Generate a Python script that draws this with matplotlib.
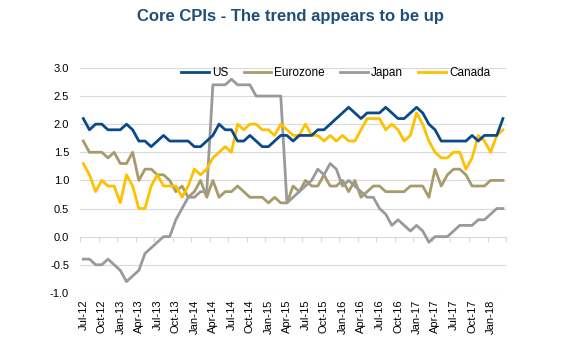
import matplotlib
matplotlib.use("Agg")
import matplotlib.pyplot as plt

plt.rcParams['font.family'] = ['Liberation Sans', 'DejaVu Sans']

# monthly, Jul-12 .. Mar-18
months = ["Jul-12", "Aug-12", "Sep-12", "Oct-12", "Nov-12", "Dec-12",
          "Jan-13", "Feb-13", "Mar-13", "Apr-13", "May-13", "Jun-13",
          "Jul-13", "Aug-13", "Sep-13", "Oct-13", "Nov-13", "Dec-13",
          "Jan-14", "Feb-14", "Mar-14", "Apr-14", "May-14", "Jun-14",
          "Jul-14", "Aug-14", "Sep-14", "Oct-14", "Nov-14", "Dec-14",
          "Jan-15", "Feb-15", "Mar-15", "Apr-15", "May-15", "Jun-15",
          "Jul-15", "Aug-15", "Sep-15", "Oct-15", "Nov-15", "Dec-15",
          "Jan-16", "Feb-16", "Mar-16", "Apr-16", "May-16", "Jun-16",
          "Jul-16", "Aug-16", "Sep-16", "Oct-16", "Nov-16", "Dec-16",
          "Jan-17", "Feb-17", "Mar-17", "Apr-17", "May-17", "Jun-17",
          "Jul-17", "Aug-17", "Sep-17", "Oct-17", "Nov-17", "Dec-17",
          "Jan-18", "Feb-18", "Mar-18"]

us = [2.1, 1.9, 2.0, 2.0, 1.9, 1.9, 1.9, 2.0, 1.9, 1.7, 1.7, 1.6,
      1.7, 1.8, 1.7, 1.7, 1.7, 1.7, 1.6, 1.6, 1.7, 1.8, 2.0, 1.9,
      1.9, 1.7, 1.7, 1.8, 1.7, 1.6, 1.6, 1.7, 1.8, 1.8, 1.7, 1.8,
      1.8, 1.8, 1.9, 1.9, 2.0, 2.1, 2.2, 2.3, 2.2, 2.1, 2.2, 2.2,
      2.2, 2.3, 2.2, 2.1, 2.1, 2.2, 2.3, 2.2, 2.0, 1.9, 1.7, 1.7,
      1.7, 1.7, 1.7, 1.8, 1.7, 1.8, 1.8, 1.8, 2.1]

eurozone = [1.7, 1.5, 1.5, 1.5, 1.4, 1.5, 1.3, 1.3, 1.5, 1.0, 1.2, 1.2,
            1.1, 1.1, 1.0, 0.8, 0.9, 0.7, 0.8, 1.0, 0.7, 1.0, 0.7, 0.8,
            0.8, 0.9, 0.8, 0.7, 0.7, 0.7, 0.6, 0.7, 0.6, 0.6, 0.9, 0.8,
            1.0, 0.9, 0.9, 1.1, 0.9, 0.9, 1.0, 0.8, 1.0, 0.7, 0.8, 0.9,
            0.9, 0.8, 0.8, 0.8, 0.8, 0.9, 0.9, 0.9, 0.7, 1.2, 0.9, 1.1,
            1.2, 1.2, 1.1, 0.9, 0.9, 0.9, 1.0, 1.0, 1.0]

japan = [-0.4, -0.4, -0.5, -0.5, -0.4, -0.5, -0.6, -0.8, -0.7, -0.6, -0.3, -0.2,
         -0.1, 0.0, 0.0, 0.3, 0.5, 0.7, 0.7, 0.8, 0.8, 2.7, 2.7, 2.7,
         2.8, 2.7, 2.7, 2.7, 2.5, 2.5, 2.5, 2.5, 2.5, 0.6, 0.7, 0.8,
         0.9, 1.0, 1.2, 1.1, 1.3, 1.2, 0.9, 1.0, 0.9, 0.8, 0.7, 0.7,
         0.5, 0.4, 0.2, 0.3, 0.2, 0.1, 0.2, 0.1, -0.1, 0.0, 0.0, 0.0,
         0.1, 0.2, 0.2, 0.2, 0.3, 0.3, 0.4, 0.5, 0.5]

canada = [1.3, 1.1, 0.8, 1.0, 0.9, 0.9, 0.6, 1.1, 0.9, 0.5, 0.5, 0.9,
          1.1, 0.9, 0.9, 0.9, 0.7, 0.9, 1.2, 1.1, 1.2, 1.4, 1.5, 1.6,
          1.5, 2.0, 1.9, 2.0, 2.0, 1.9, 1.9, 1.8, 2.0, 1.9, 1.8, 1.8,
          2.0, 1.8, 1.8, 1.7, 1.8, 1.7, 1.8, 1.7, 1.7, 1.9, 2.1, 2.1,
          2.1, 1.9, 2.0, 1.9, 1.7, 1.8, 2.2, 2.0, 1.7, 1.5, 1.4, 1.4,
          1.5, 1.5, 1.2, 1.4, 1.8, 1.7, 1.5, 1.8, 1.9]

yticks = [-1.0, -0.5, 0.0, 0.5, 1.0, 1.5, 2.0, 2.5, 3.0]

fig = plt.figure(figsize=(5.77, 3.52), dpi=100)
ax = fig.add_axes([0.139, 0.168, 0.738, 0.639])

x = range(len(months))
ax.plot(x, us, color="#0B4A8A", lw=2.0, label="US", zorder=4)
ax.plot(x, eurozone, color="#A89B6B", lw=2.0, label="Eurozone", zorder=3)
ax.plot(x, japan, color="#9A9A9A", lw=2.0, label="Japan", zorder=3)
ax.plot(x, canada, color="#FFC000", lw=2.0, label="Canada", zorder=3)

ax.set_xlim(-0.5, len(months) - 0.5)
ax.set_ylim(-1.0, 3.0)
ax.set_yticks(yticks)
ax.set_yticklabels(["%.1f" % v for v in yticks])
for v in yticks:
    ax.axhline(v, color="#D9D9D9", lw=0.8, zorder=1)

# category axis crosses at zero, ticks between categories
ax.set_xticks(list(x)[::3])
ax.set_xticklabels(months[::3], rotation=90)
for b in range(0, len(months) + 1, 3):
    ax.plot([b - 0.5, b - 0.5], [0, -0.07], color="#D9D9D9", lw=0.8, zorder=1,
            clip_on=False)
ax.tick_params(axis="x", length=0, pad=5, labelsize=8, colors="#000000")
ax.tick_params(axis="y", length=0, pad=8, labelsize=8)
for s in ax.spines.values():
    s.set_visible(False)

fig.text(0.503, 0.952, "Core CPIs - The trend appears to be up", ha="center",
         va="center", fontsize=12, fontweight="bold", color="#1F4E79")

ax.legend(loc="center", bbox_to_anchor=(0.582, 0.792), bbox_transform=fig.transFigure,
          ncol=4, frameon=False, fontsize=8.5, handlelength=2.3, columnspacing=1.3,
          handletextpad=0.3)

fig.savefig("out.png", dpi=100)
